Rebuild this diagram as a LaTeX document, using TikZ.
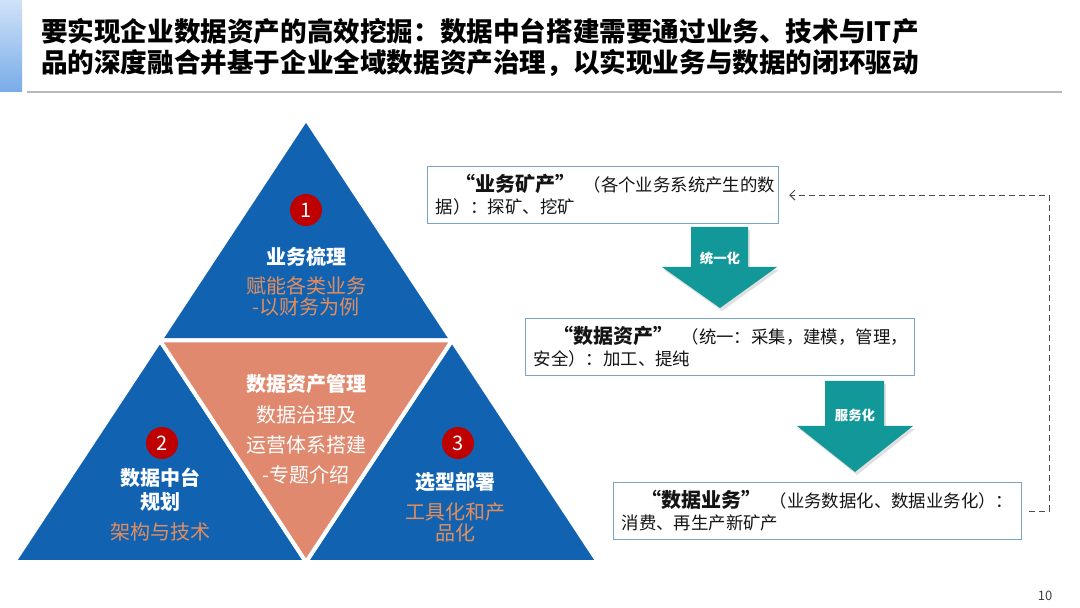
\documentclass[tikz,border=0pt]{standalone}
\usepackage{fontspec}
\setmainfont{Noto Sans CJK SC}
\usepackage{xcolor}
\usepackage{tikz}
\usetikzlibrary{arrows.meta,positioning,calc}
\definecolor{triblue}{RGB}{17,99,178}
\definecolor{salmon}{RGB}{224,137,110}
\definecolor{subor}{RGB}{228,141,92}
\definecolor{dotred}{RGB}{190,0,0}
\definecolor{flowteal}{RGB}{18,152,153}
\definecolor{boxline}{RGB}{125,162,200}
\definecolor{ink}{RGB}{20,20,20}
\definecolor{barhi}{RGB}{208,226,248}
\definecolor{barlo}{RGB}{120,172,232}

\begin{document}
\begin{tikzpicture}[x=0.5pt,y=-0.5pt,
  tri/.style={draw=white,line width=2pt,line join=miter},
  numdot/.style={circle,fill=dotred,text=white,minimum size=16pt,inner sep=0pt,font=\fontsize{10}{10}\selectfont},
  head/.style={text=white,align=center,font=\fontsize{10}{12}\selectfont\bfseries},
  sub/.style={text=subor,align=center,font=\fontsize{10}{10.5}\selectfont},
  infobox/.style={draw=boxline,line width=0.6pt,anchor=north west,align=left,inner sep=4pt,text=ink,font=\fontsize{8.7}{11}\selectfont},
  flow/.style={fill=flowteal},
  flowlbl/.style={text=white,font=\fontsize{6.7}{7}\selectfont\bfseries},
  backline/.style={densely dashed,draw=black!70,line width=0.5pt,-{Straight Barb[length=2.5pt,width=5pt]},shorten <=3.5pt,shorten >=5pt}]
  \useasboundingbox (0,0) rectangle (1080,608);

  % title bar
  \shade[top color=barhi,bottom color=barlo] (0,0) rectangle (22,92);
  \node[anchor=west,align=left,text=black,font=\fontsize{13.3}{15.5}\selectfont\bfseries] (ttl) at (34,47.5)
    {要实现企业数据资产的高效挖掘：数据中台搭建需要通过业务、技术与IT产\\品的深度融合并基于企业全域数据资产治理，以实现业务与数据的闭环驱动};
  \draw[black!28,line width=0.8pt] (27,92) -- (1062,92);

  % pyramid
  \coordinate (A) at (14,562);
  \coordinate (B) at (598,562);
  \coordinate (C) at (306,119);
  \coordinate (ac) at ($(A)!0.5!(C)$);
  \coordinate (bc) at ($(B)!0.5!(C)$);
  \coordinate (ab) at ($(A)!0.5!(B)$);
  \filldraw[tri,fill=triblue] (ac) -- (C) -- (bc) -- cycle;
  \filldraw[tri,fill=triblue] (A) -- (ac) -- (ab) -- cycle;
  \filldraw[tri,fill=triblue] (ab) -- (bc) -- (B) -- cycle;
  \filldraw[tri,fill=salmon] (ac) -- (bc) -- (ab) -- cycle;

  \node[numdot] (n1) at (306,210) {1};
  \node[head] (h1) at (306,257) {业务梳理};
  \node[sub] (s1) at (306,296) {赋能各类业务\\-以财务为例};

  \node[head] (h0) at (306,384) {数据资产管理};
  \node[text=white,align=center,font=\fontsize{10}{15}\selectfont] (s0) at (306,445) {数据治理及\\运营体系搭建\\-专题介绍};

  \node[numdot] (n2) at (162,443) {2};
  \node[head] (h2) at (160,490) {数据中台\\规划};
  \node[sub] (s2) at (160,532) {架构与技术};

  \node[numdot] (n3) at (458,443) {3};
  \node[head] (h3) at (455,482) {选型部署};
  \node[sub] (s3) at (455,522) {工具化和产\\品化};

  % flow on the right
  \node[infobox,minimum width=175.5pt,minimum height=27.5pt,text width=167.5pt] (ore) at (427,166)
    {\mbox{\hspace{10pt}{\fontsize{10}{11}\selectfont\bfseries “业务矿产”}\hspace{4pt}（各个业务系统产生的数}\\据）：探矿、挖矿};
  \node[infobox,minimum width=194.5pt,minimum height=27.5pt,text width=186.5pt] (asset) at (525,318)
    {\mbox{\hspace{10pt}{\fontsize{10}{11}\selectfont\bfseries “数据资产”}\hspace{4pt}（统一：采集，建模，管理，}\\安全）：加工、提纯};
  \node[infobox,minimum width=204pt,minimum height=27pt,text width=196pt] (svc) at (613,482)
    {\mbox{\hspace{10pt}{\fontsize{10}{11}\selectfont\bfseries “数据业务”}\hspace{4pt}（业务数据化、数据业务化）：}\\消费、再生产新矿产};

  \fill[black,opacity=0.12] (693,230) -- (750,230) -- (750,270) -- (779,270) -- (722,311) -- (664,270) -- (693,270) -- cycle;
  \fill[flow] (691,227) -- (748,227) -- (748,267) -- (777,267) -- (720,308) -- (662,267) -- (691,267) -- cycle;
  \node[flowlbl] (uni) at (720,258) {统一化};
  \fill[black,opacity=0.12] (827,384) -- (886,384) -- (886,429) -- (915,429) -- (857,475) -- (799,429) -- (827,429) -- cycle;
  \fill[flow] (825,381) -- (884,381) -- (884,426) -- (913,426) -- (855,472) -- (797,426) -- (825,426) -- cycle;
  \node[flowlbl] (serv) at (855,415) {服务化};

  \draw[backline] (svc.east) -- ++(27,0) |- (ore.east);

  \node[text=black!75,font=\fontsize{6.5}{7}\selectfont] (pg) at (1045,596) {10};
\end{tikzpicture}
\end{document}
